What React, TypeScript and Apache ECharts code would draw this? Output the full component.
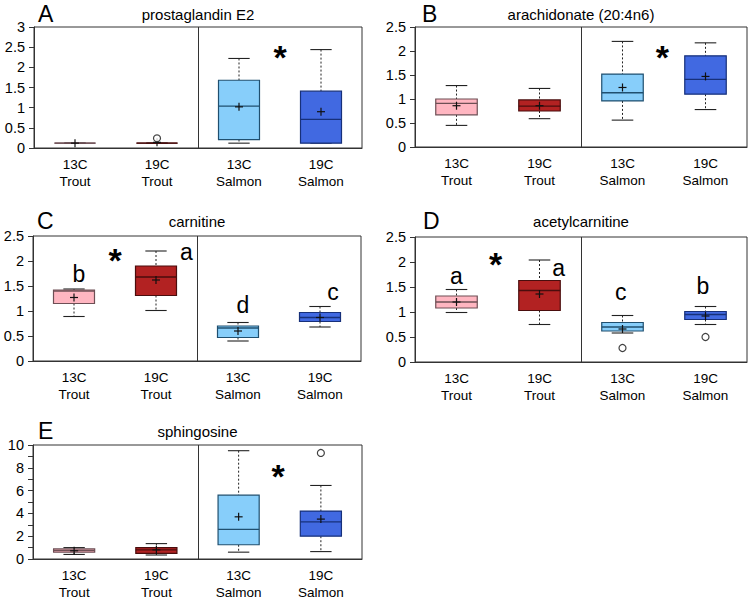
import React, { useEffect, useRef } from "react";
import * as echarts from "echarts";

const categories = ["13C\nTrout", "19C\nTrout", "13C\nSalmon", "19C\nSalmon"];
const panelLetters = ["A", "B", "C", "D", "E"];
const panelTitles = ["prostaglandin E2", "arachidonate (20:4n6)", "carnitine", "acetylcarnitine", "sphingosine"];
const yMaxes = [3, 2.5, 2.5, 2.5, 10];
const yIntervals = [0.5, 0.5, 0.5, 0.5, 2];

// each row: [min, Q1, median, Q3, max, mean]
const pgeStats = [
  [0.12, 0.12, 0.12, 0.12, 0.12, 0.12],
  [0.12, 0.12, 0.12, 0.12, 0.12, 0.14],
  [0.12, 0.21, 1.04, 1.68, 2.22, 1.02],
  [0.12, 0.12, 0.71, 1.41, 2.44, 0.9],
];
const araStats = [
  [0.45, 0.67, 0.91, 1.0, 1.28, 0.86],
  [0.59, 0.75, 0.85, 0.98, 1.22, 0.86],
  [0.56, 0.96, 1.13, 1.52, 2.2, 1.24],
  [0.78, 1.1, 1.41, 1.9, 2.17, 1.47],
];
const carStats = [
  [0.89, 1.15, 1.4, 1.42, 1.44, 1.27],
  [1.01, 1.31, 1.68, 1.9, 2.2, 1.62],
  [0.4, 0.47, 0.66, 0.7, 0.77, 0.6],
  [0.68, 0.79, 0.87, 0.97, 1.09, 0.87],
];
const acStats = [
  [0.99, 1.08, 1.2, 1.32, 1.45, 1.2],
  [0.75, 1.03, 1.43, 1.63, 2.04, 1.36],
  [0.58, 0.62, 0.7, 0.79, 0.93, 0.66],
  [0.75, 0.85, 0.95, 1.01, 1.11, 0.92],
];
const sphStats = [
  [0.4, 0.6, 0.75, 0.88, 1.0, 0.72],
  [0.35, 0.5, 0.8, 1.0, 1.35, 0.8],
  [0.6, 1.25, 2.6, 5.6, 9.5, 3.7],
  [0.65, 2.0, 3.25, 4.2, 6.45, 3.5],
];
const allStats = [pgeStats, araStats, carStats, acStats, sphStats];

// outliers: [category index, value]
const pgeOutliers = [[1, 0.24]];
const araOutliers: number[][] = [];
const carOutliers: number[][] = [];
const acOutliers = [[2, 0.28], [3, 0.5]];
const sphOutliers = [[3, 9.3]];
const allOutliers = [pgeOutliers, araOutliers, carOutliers, acOutliers, sphOutliers];

// annotations: [category index, offset in bands, value]
const pgeMarks = [[2, 0.5, 2.37]];
const pgeMarkTexts = ["*"];
const araMarks = [[2, 0.48, 1.98]];
const araMarkTexts = ["*"];
const carMarks = [[0, 0.06, 1.75], [0, 0.5, 2.12], [1, 0.37, 2.19], [2, 0.06, 1.12], [3, 0.16, 1.39]];
const carMarkTexts = ["b", "*", "a", "d", "c"];
const acMarks = [[0, 0.0, 1.73], [0, 0.47, 2.07], [1, 0.23, 1.89], [2, -0.02, 1.4], [3, -0.03, 1.53]];
const acMarkTexts = ["a", "*", "a", "c", "b"];
const sphMarks = [[2, 0.48, 7.7]];
const sphMarkTexts = ["*"];
const allMarks = [pgeMarks, araMarks, carMarks, acMarks, sphMarks];
const allMarkTexts = [pgeMarkTexts, araMarkTexts, carMarkTexts, acMarkTexts, sphMarkTexts];

const fills = ["#FFB6C1", "#B22222", "#87CEFA", "#4169E1"];
const strokes = ["#6e4f55", "#4a0d0d", "#1f4f6f", "#17307a"];

const FONT = "'Liberation Sans', Arial, Helvetica, sans-serif";

const grids = [
  { left: 34, top: 27, width: 328, height: 121 },
  { left: 415, top: 27, width: 332, height: 120 },
  { left: 33, top: 236, width: 328, height: 125 },
  { left: 415, top: 237, width: 332, height: 125 },
  { left: 33, top: 445, width: 329, height: 116 },
];
const letterPos = [
  [38, 14], [422, 14], [37, 221], [423, 221], [38, 431],
];

function boxRenderer(params: any, api: any) {
  const i = api.value(0);
  const bw = api.size([1, 0])[0];
  const boxHalf = bw * 0.25;
  const capHalf = bw * 0.13;
  const c = (v: number) => api.coord([i, v]);
  const x = c(api.value(3))[0];
  const yMin = c(api.value(1))[1];
  const yQ1 = c(api.value(2))[1];
  const yMed = c(api.value(3))[1];
  const yQ3 = c(api.value(4))[1];
  const yMax = c(api.value(5))[1];
  const yMean = c(api.value(6))[1];
  const stroke = strokes[i];
  const whisker = { stroke: "#222", lineWidth: 1, lineDash: [2, 2] };
  const solid = { stroke: "#222", lineWidth: 1.1 };
  const children: any[] = [
    { type: "line", shape: { x1: x, y1: yMax, x2: x, y2: yQ3 }, style: whisker },
    { type: "line", shape: { x1: x, y1: yQ1, x2: x, y2: yMin }, style: whisker },
    { type: "line", shape: { x1: x - capHalf, y1: yMax, x2: x + capHalf, y2: yMax }, style: solid },
    { type: "line", shape: { x1: x - capHalf, y1: yMin, x2: x + capHalf, y2: yMin }, style: solid },
    {
      type: "rect",
      shape: { x: x - boxHalf, y: yQ3, width: boxHalf * 2, height: yQ1 - yQ3 },
      style: { fill: fills[i], stroke, lineWidth: 1.2 },
    },
    { type: "line", shape: { x1: x - boxHalf, y1: yMed, x2: x + boxHalf, y2: yMed }, style: { stroke, lineWidth: 1.3 } },
    { type: "line", shape: { x1: x - 4, y1: yMean, x2: x + 4, y2: yMean }, style: { stroke: "#111", lineWidth: 1.2 } },
    { type: "line", shape: { x1: x, y1: yMean - 4, x2: x, y2: yMean + 4 }, style: { stroke: "#111", lineWidth: 1.2 } },
  ];
  if (i === 2) {
    const cs = params.coordSys;
    const dx = Math.round(x - bw / 2) + 0.5;
    children.push({
      type: "line",
      shape: { x1: dx, y1: cs.y, x2: dx, y2: cs.y + cs.height },
      style: { stroke: "#333", lineWidth: 1 },
    });
  }
  return { type: "group", children };
}

function markRenderer(texts: string[]) {
  return (params: any, api: any) => {
    const i = api.value(0);
    const off = api.value(1);
    const v = api.value(2);
    const bw = api.size([1, 0])[0];
    const p = api.coord([i, v]);
    const t = texts[params.dataIndex];
    const star = t === "*";
    return {
      type: "text",
      x: p[0] + off * bw,
      y: p[1] + (star ? 5 : 0),
      style: {
        text: t,
        fontSize: star ? 34 : 23,
        fontWeight: star ? "bold" : "normal",
        fontFamily: FONT,
        fill: "#000",
        align: "center",
        verticalAlign: "middle",
      },
    };
  };
}

export default function App() {
  const ref = useRef<HTMLDivElement>(null);
  useEffect(() => {
    if (!ref.current) return;
    const chart = echarts.init(ref.current, null, { renderer: "svg" });
    const series: any[] = [];
    const graphic: any[] = [];
    allStats.forEach((stats, k) => {
      series.push({
        type: "custom",
        xAxisIndex: k,
        yAxisIndex: k,
        renderItem: boxRenderer,
        encode: { x: 0, y: [1, 2, 3, 4, 5, 6] },
        data: stats.map((s, i) => [i, ...s]),
        z: 3,
      });
      series.push({
        type: "scatter",
        xAxisIndex: k,
        yAxisIndex: k,
        symbol: "circle",
        symbolSize: 7,
        itemStyle: { color: "#fff", borderColor: "#111", borderWidth: 1.2 },
        data: allOutliers[k],
        z: 4,
      });
      series.push({
        type: "custom",
        xAxisIndex: k,
        yAxisIndex: k,
        renderItem: markRenderer(allMarkTexts[k]),
        encode: { x: 0, y: 2 },
        data: allMarks[k],
        z: 5,
        clip: false,
      });
      const g = grids[k];
      graphic.push({
        type: "text",
        x: letterPos[k][0],
        y: letterPos[k][1],
        style: { text: panelLetters[k], fontSize: 23, fontFamily: FONT, fill: "#000", align: "left", verticalAlign: "middle" },
      });
      graphic.push({
        type: "text",
        x: g.left + g.width / 2,
        y: letterPos[k][1],
        style: { text: panelTitles[k], fontSize: 15, fontFamily: FONT, fill: "#000", align: "center", verticalAlign: "middle" },
      });
    });
    chart.setOption({
      animation: false,
      backgroundColor: "#fff",
      grid: grids.map((g) => ({ ...g, show: true, borderColor: "#333", borderWidth: 1, backgroundColor: "transparent" })),
      xAxis: grids.map((_, k) => ({
        type: "category",
        gridIndex: k,
        data: categories,
        boundaryGap: true,
        axisLine: { lineStyle: { color: "#333" } },
        axisTick: { alignWithLabel: true, length: 4, lineStyle: { color: "#333" } },
        axisLabel: { interval: 0, fontSize: 13.5, lineHeight: 17, color: "#000", margin: 8, fontFamily: FONT },
        splitLine: { show: false },
      })),
      yAxis: grids.map((_, k) => ({
        type: "value",
        gridIndex: k,
        min: 0,
        max: yMaxes[k],
        interval: yIntervals[k],
        axisLine: { show: true, lineStyle: { color: "#333" } },
        axisTick: { show: true, length: 5, lineStyle: { color: "#333" } },
        minorTick: { show: k === 4, splitNumber: 2, length: 5, lineStyle: { color: "#333" } },
        axisLabel: { fontSize: 14.5, color: "#000", margin: 9, fontFamily: FONT },
        splitLine: { show: false },
      })),
      graphic,
      series,
    });
    return () => chart.dispose();
  }, []);
  return (
    <div
      ref={ref}
      style={{ position: "absolute", left: 0, top: 0, width: 750, height: 601, background: "#fff" }}
    />
  );
}
